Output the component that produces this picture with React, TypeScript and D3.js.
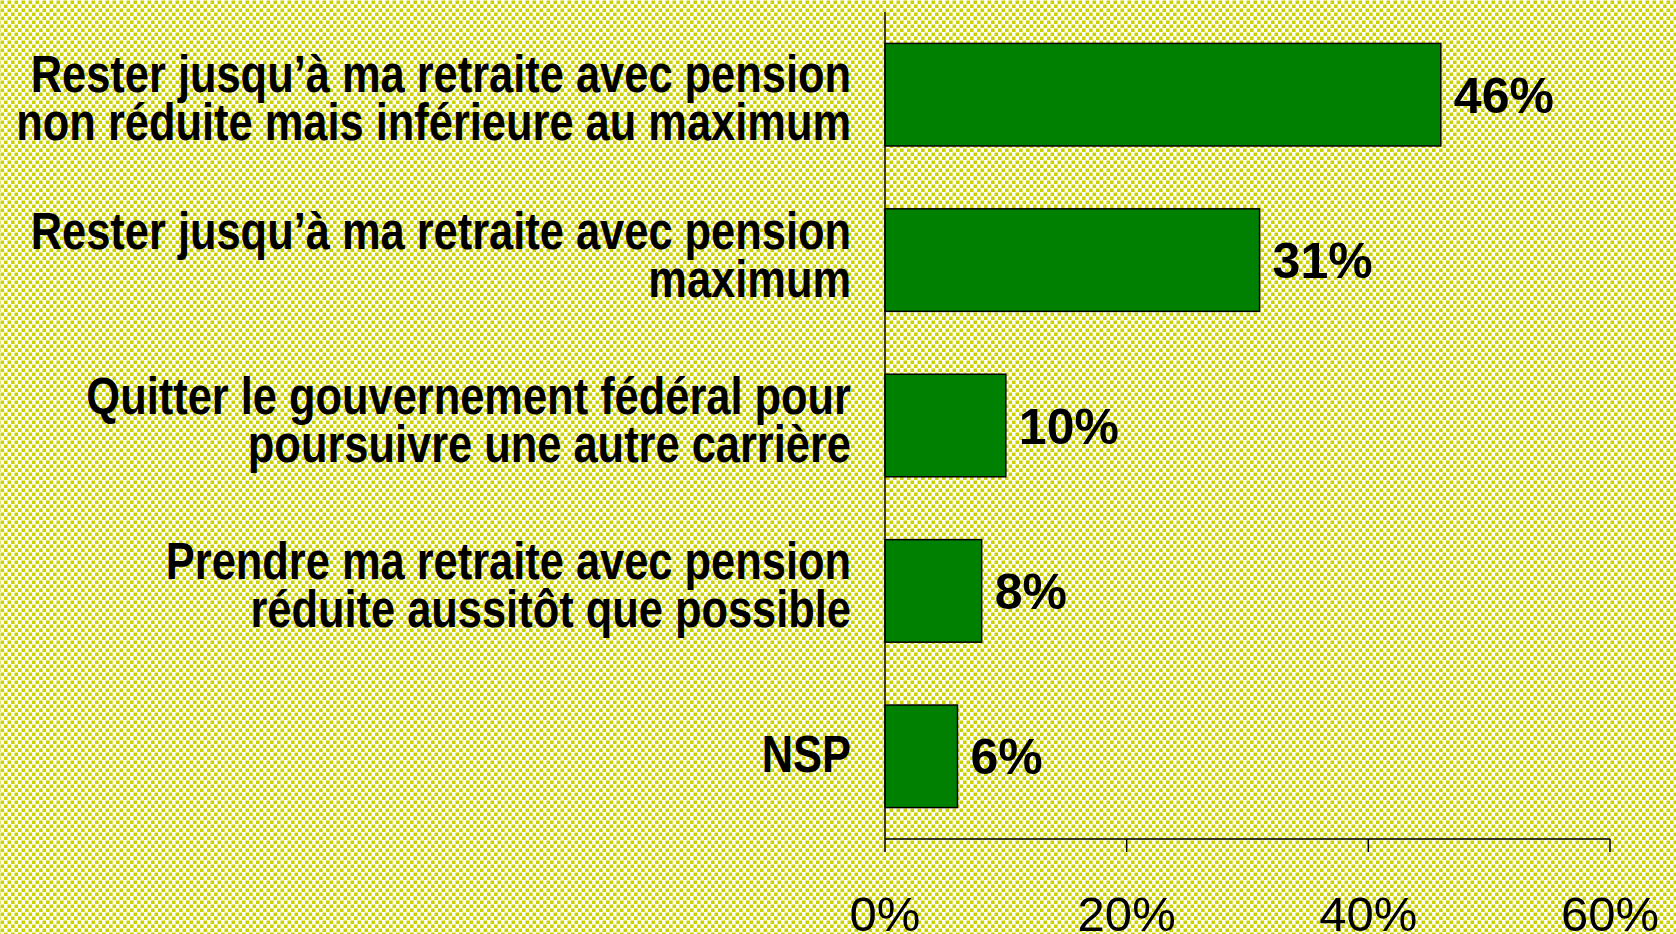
import * as d3 from 'd3';

// Libellés des réponses (une ligne par entrée)
const categories: string[][] = [
  ['Rester jusqu’à ma retraite avec pension', 'non réduite mais inférieure au maximum'],
  ['Rester jusqu’à ma retraite avec pension', 'maximum'],
  ['Quitter le gouvernement fédéral pour', 'poursuivre une autre carrière'],
  ['Prendre ma retraite avec pension', 'réduite aussitôt que possible'],
  ['NSP'],
];
const values = [46, 31, 10, 8, 6];
const tickValues = [0, 20, 40, 60];

const W = 1676;
const H = 934;
const FONT = '"Liberation Sans", Arial, Helvetica, sans-serif';

export default function App() {
  const x = d3.scaleLinear().domain([0, 60]).range([885, 1610]);
  const y = d3
    .scaleBand<number>()
    .domain(values.map((_, i) => i))
    .range([12, 839])
    .paddingInner(0.38)
    .paddingOuter(0.19);

  const axisY = y.range()[1];

  return (
    <svg
      width={W}
      height={H}
      style={{ position: 'absolute', left: 0, top: 0, display: 'block' }}
      fontFamily={FONT}
    >
      <defs>
        {/* fond pointillé jaune-vert */}
        <pattern id="dots" width={7} height={8} patternUnits="userSpaceOnUse">
          <rect width={7} height={8} fill="#ffffff" />
          <rect x={0.5} y={0.5} width={3.6} height={3.6} fill="#ccd200" />
          <rect x={4} y={4.5} width={3.6} height={3.6} fill="#ccd200" />
          <rect x={-3} y={4.5} width={3.6} height={3.6} fill="#ccd200" />
        </pattern>
      </defs>
      <rect width={W} height={H} fill="url(#dots)" />

      {/* barres */}
      {values.map((v, i) => (
        <rect
          key={'b' + i}
          x={x(0)}
          y={y(i)}
          width={x(v) - x(0)}
          height={y.bandwidth()}
          fill="#008000"
          stroke="#000"
          strokeWidth={1.5}
        />
      ))}

      {/* valeurs */}
      {values.map((v, i) => (
        <text
          key={'v' + i}
          x={x(v) + 13}
          y={(y(i) ?? 0) + y.bandwidth() / 2 + 18}
          fontSize={50}
          fontWeight="bold"
          fill="#000"
        >
          {v}%
        </text>
      ))}

      {/* libellés */}
      {categories.map((lines, i) => {
        const c = (y(i) ?? 0) + y.bandwidth() / 2;
        const base = lines.length === 1 ? c + 16 : c - 11.5 + (i === 0 ? 9 : 0);
        return (
          <g key={'l' + i} transform={`translate(851,${base}) scale(0.835,1)`}>
            {lines.map((t, j) => (
              <text key={j} x={0} y={j * 48} textAnchor="end" fontSize={52} fontWeight="bold" fill="#000">
                {t}
              </text>
            ))}
          </g>
        );
      })}

      {/* axes */}
      <line x1={x(0)} x2={x(0)} y1={12} y2={axisY} stroke="#000" strokeWidth={1.5} />
      <line x1={x(0)} x2={x(60)} y1={axisY} y2={axisY} stroke="#000" strokeWidth={1.5} />
      {tickValues.map((t) => (
        <g key={'t' + t}>
          <line x1={x(t)} x2={x(t)} y1={axisY} y2={axisY + 13} stroke="#000" strokeWidth={1.5} />
          <text x={x(t)} y={931} textAnchor="middle" fontSize={49} fill="#000">
            {t}%
          </text>
        </g>
      ))}
    </svg>
  );
}
